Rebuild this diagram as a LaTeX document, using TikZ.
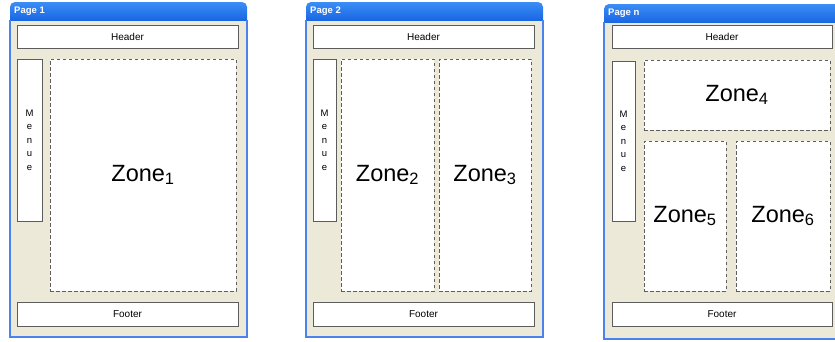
\documentclass[tikz,border=0pt]{standalone}
\usepackage{fontspec}
\setmainfont{Liberation Sans}
\definecolor{winbg}{HTML}{ECE9D8}
\definecolor{winedge}{HTML}{4A82EE}
\definecolor{bartop}{HTML}{3C8DF6}
\definecolor{barbot}{HTML}{0653D8}
\definecolor{boxline}{HTML}{5C5C5C}
\definecolor{zoneline}{HTML}{5E5E5E}
\begin{document}
\begin{tikzpicture}[x=1pt,y=-1pt,
  body/.style={fill=winbg},
  edge/.style={draw=winedge,line width=1.6pt},
  bar/.style={top color=bartop,bottom color=barbot,rounded corners=5pt},
  bartext/.style={anchor=west,text=white,inner sep=0pt,font=\fontsize{9.5}{10}\selectfont\bfseries},
  plainbox/.style={draw=boxline,fill=white,line width=1pt,inner sep=0pt,font=\fontsize{10}{12}\selectfont},
  menubox/.style={plainbox,align=center,font=\fontsize{9.5}{13.5}\selectfont},
  zonebox/.style={draw=zoneline,fill=white,line width=0.8pt,dash pattern=on 3.5pt off 2.5pt,inner sep=0pt,font=\fontsize{23.5}{26}\selectfont}]
\useasboundingbox (0,0) rectangle (835,341);
\clip (0,0) rectangle (835,341);

% ---------- window 1 ----------
\fill[body] (10,16) rectangle (247,337);
\begin{scope}
  \clip (0,0) rectangle (260,20);
  \shade[bar] (10,2) rectangle (247,30);
\end{scope}
\draw[edge] (10,20) -- (10,337) -- (247,337) -- (247,20);
\node[bartext] (t1) at (14,11) {Page 1};
\node[plainbox,minimum width=221pt,minimum height=23pt] (h1) at (127.5,36.5) {Header};
\node[plainbox,minimum width=221pt,minimum height=24pt] (f1) at (127.5,314) {Footer};
\node[menubox,minimum width=25pt,minimum height=162pt] (m1) at (29.5,140) {M\\e\\n\\u\\e};
\node[zonebox,minimum width=186pt,minimum height=232pt] (z1) at (143,175) {Zone\textsubscript{1}};

% ---------- window 2 ----------
\fill[body] (306,16) rectangle (543,337);
\begin{scope}
  \clip (300,0) rectangle (560,20);
  \shade[bar] (306,2) rectangle (543,30);
\end{scope}
\draw[edge] (306,20) -- (306,337) -- (543,337) -- (543,20);
\node[bartext] (t2) at (310,11) {Page 2};
\node[plainbox,minimum width=221pt,minimum height=23pt] (h2) at (423.5,36.5) {Header};
\node[plainbox,minimum width=221pt,minimum height=24pt] (f2) at (423.5,314) {Footer};
\node[menubox,minimum width=23pt,minimum height=162pt] (m2) at (324.5,140) {M\\e\\n\\u\\e};
\node[zonebox,minimum width=93pt,minimum height=232pt] (z2) at (387.5,175) {Zone\textsubscript{2}};
\node[zonebox,minimum width=92pt,minimum height=232pt] (z3) at (485,175) {Zone\textsubscript{3}};

% ---------- window n ----------
\fill[body] (604,18) rectangle (845,339);
\begin{scope}
  \clip (600,0) rectangle (845,22);
  \shade[bar] (604,4) rectangle (850,32);
\end{scope}
\draw[edge] (604,22) -- (604,339) -- (845,339);
\node[bartext] (t3) at (608,13) {Page n};
\node[plainbox,minimum width=220pt,minimum height=23pt] (h3) at (722,37) {Header};
\node[plainbox,minimum width=220pt,minimum height=24pt] (f3) at (722,314) {Footer};
\node[menubox,minimum width=23pt,minimum height=160pt] (m3) at (623.5,141) {M\\e\\n\\u\\e};
\node[zonebox,minimum width=186pt,minimum height=70pt] (z4) at (737,95) {Zone\textsubscript{4}};
\node[zonebox,minimum width=82pt,minimum height=150pt] (z5) at (685,216) {Zone\textsubscript{5}};
\node[zonebox,minimum width=94pt,minimum height=150pt] (z6) at (783,216) {Zone\textsubscript{6}};
\end{tikzpicture}
\end{document}
